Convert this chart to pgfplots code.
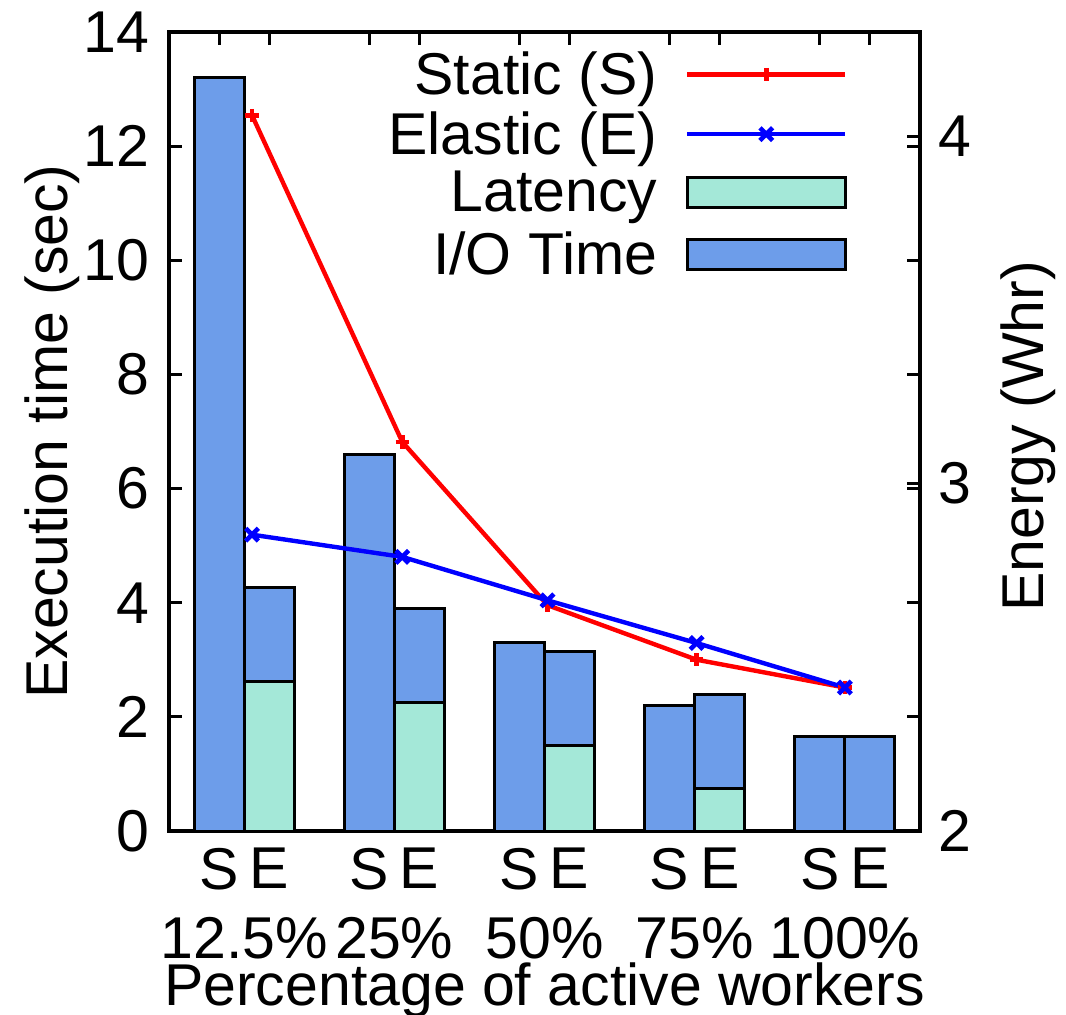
\documentclass[border=0pt]{standalone}
\usepackage{pgfplots}
\pgfplotsset{compat=1.18}
\usepackage{pgfplotstable}
\usepackage{fontspec}
\setmainfont{Liberation Sans}

\definecolor{iofill}{RGB}{109,157,234}
\definecolor{latfill}{RGB}{164,232,216}

% bars: S at group-1/6, E at group+1/6
\pgfplotstableread{
x        lat   io
-0.1667  0     13.2
0.1667   2.62  1.65
0.8333   0     6.6
1.1667   2.25  1.65
1.8333   0     3.3
2.1667   1.50  1.65
2.8333   0     2.2
3.1667   0.75  1.65
3.8333   0     1.65
4.1667   0     1.65
}\bars

\pgfplotstableread{
x      stat   elas
0.053  4.06   2.853
1.053  3.12   2.789
2.02   2.65   2.664
3.013  2.493  2.541
4.0    2.413  2.413
}\energy

\pgfplotsset{
  linelegend/.style={legend image code/.code={
    \path[draw=none, fill=none] (0bp,-5bp) -- (0bp,3bp);
    \draw[mark repeat=2,mark phase=2,##1] plot coordinates {(0bp,0bp) (39.5bp,0bp) (79bp,0bp)};}},
  boxlegend/.style={legend image code/.code={
    \path[draw=none, fill=none] (0bp,-12.5bp) -- (0bp,7.5bp);
    \draw[##1] (0bp,-7.5bp) rectangle (79bp,7.5bp);}},
  common/.style={
    scale only axis, width=375.5bp, height=399.5bp,
    xmin=-0.5, xmax=4.5,
    tick align=inside, major tick length=6.5bp,
    every tick/.style={black, line width=1.5bp},
    axis line style={line width=1.6bp},
    /pgf/number format/assume math mode=true,
  },
}

\begin{document}
\begin{tikzpicture}[font=\fontsize{29.5bp}{35bp}\selectfont]
\useasboundingbox (-84.5bp,-92bp) rectangle (448.5bp,415.5bp);
\begin{axis}[common,
  ymin=0, ymax=14, ytick={0,2,...,14},
  xtick={-0.1667,0.1667,0.8333,1.1667,1.8333,2.1667,2.8333,3.1667,3.8333,4.1667},
  xticklabels={S,E,S,E,S,E,S,E,S,E},
  xtick pos=both, ytick pos=both,
  xticklabel style={anchor=north, inner sep=0pt, yshift=-8.5bp},
  yticklabel style={anchor=east, inner sep=0pt, xshift=-9.5bp},
  extra x ticks={0,1,2,3,4},
  extra x tick labels={12.5\%,25\%,50\%,75\%,100\%},
  extra x tick style={major tick length=0pt, xticklabel style={yshift=-34.5bp}},
  xlabel={Percentage of active workers},
  xlabel style={at={(axis description cs:0.5,0)}, anchor=north, inner sep=0pt, yshift=-65.5bp},
  ylabel={Execution time (sec)},
  ylabel style={at={(axis description cs:-0.1345,0.5)}, anchor=base, inner sep=0pt},
  ybar stacked, bar width=0.3333,
]
\addplot[fill=latfill, draw=black, line width=1.5bp] table[x=x, y=lat] {\bars};
\addplot[fill=iofill, draw=black, line width=1.5bp] table[x=x, y=io] {\bars};
\end{axis}
\begin{axis}[common,
  axis x line=none, axis y line*=right,
  ymin=2, ymax=4.3, ytick={2,3,4},
  yticklabel style={anchor=west, inner sep=0pt, xshift=9bp},
  ylabel={Energy (Whr)},
  ylabel style={at={(axis description cs:1.1638,0.494)}, anchor=base, inner sep=0pt},
  legend style={draw=none, fill=none, at={(0.904,0.976)}, anchor=north east,
    inner sep=0pt, row sep=7bp, column sep=14bp,
    legend plot pos=right, cells={anchor=east},
    nodes={inner sep=0pt}},
]
\addplot[red, line width=2.2bp, mark=+, mark size=3.3bp,
  mark options={line width=2.3bp}, linelegend] table[x=x, y=stat] {\energy};
\addlegendentry{Static (S)}
\addplot[blue, line width=2.2bp, mark=x, mark size=4.5bp,
  mark options={line width=2.3bp}, linelegend] table[x=x, y=elas] {\energy};
\addlegendentry{Elastic (E)}
\addlegendimage{fill=latfill, draw=black, line width=1.5bp, boxlegend}
\addlegendentry{Latency}
\addlegendimage{fill=iofill, draw=black, line width=1.5bp, boxlegend}
\addlegendentry{I/O Time}
\end{axis}
\end{tikzpicture}
\end{document}
